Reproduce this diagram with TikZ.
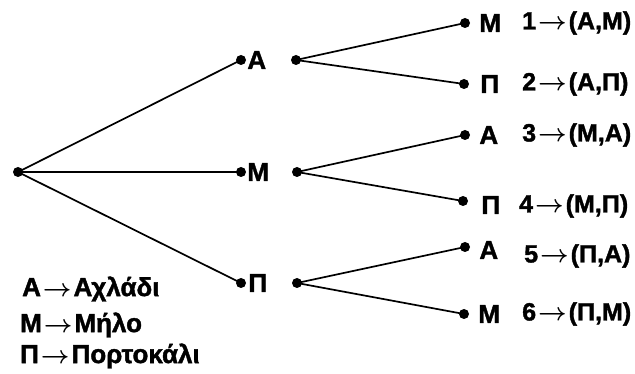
\documentclass[tikz,border=0pt]{standalone}
\usepackage{amsmath}
\usepackage{fontspec}
\setmainfont{Liberation Sans}[BoldFeatures={FakeBold=1.5}]
\usetikzlibrary{positioning}
\newcommand{\then}{\kern2pt\ensuremath{\boldsymbol{\rightarrow}}\kern2pt}

\begin{document}
\begin{tikzpicture}[
    x=1pt, y=-1pt,
    dot/.style={circle, fill, inner sep=0pt, minimum size=10pt},
    lbl/.style={inner sep=1pt, font=\fontsize{26}{28}\selectfont\bfseries},
    res/.style={anchor=west, inner sep=0pt, font=\fontsize{25}{28}\selectfont\bfseries},
    key/.style={anchor=west, inner sep=0pt, font=\fontsize{26}{28}\selectfont\bfseries},
    branch/.style={line width=1.7pt}
]
\useasboundingbox (0,0) rectangle (635,374);

% ρίζα και πρώτο επίπεδο
\node[dot] (root) at (18,172) {};
\node[dot] (a) at (241,60) {};
\node[dot] (m) at (241,172) {};
\node[dot] (p) at (241,283) {};
\node[lbl, right=0pt of a] (la) {Α};
\node[lbl, right=0pt of m] (lm) {Μ};
\node[lbl, right=1pt of p] (lp) {Π};

% δεύτερο επίπεδο
\node[dot] (a2) at (296,60) {};
\node[dot] (m2) at (297,172) {};
\node[dot] (p2) at (297,283) {};

% φύλλα
\node[dot] (am) at (465,23) {};
\node[dot] (ap) at (464,84) {};
\node[dot] (ma) at (465,135) {};
\node[dot] (mp) at (463,201) {};
\node[dot] (pa) at (465,247) {};
\node[dot] (pm) at (464,314) {};
\node[lbl, right=8pt of am] (lam) {Μ};
\node[lbl, right=10pt of ap] (lap) {Π};
\node[lbl, right=8pt of ma] (lma) {Α};
\node[lbl, right=12pt of mp, yshift=-4pt] (lmp) {Π};
\node[lbl, right=8pt of pa, yshift=-3pt] (lpa) {Α};
\node[lbl, right=8pt of pm] (lpm) {Μ};

% αποτελέσματα
\node[res] (r1) at (522,23) {1\then(Α,Μ)};
\node[res] (r2) at (522,84) {2\then(Α,Π)};
\node[res] (r3) at (522,135) {3\then(Μ,Α)};
\node[res] (r4) at (519,206) {4\then(Μ,Π)};
\node[res] (r5) at (524,256) {5\then(Π,Α)};
\node[res] (r6) at (522,314) {6\then(Π,Μ)};

% κλαδιά
\draw[branch] (root.center) -- (a.center);
\draw[branch] (root.center) -- (m.center);
\draw[branch] (root.center) -- (p.center);
\draw[branch] (a2.center) -- (am.center);
\draw[branch] (a2.center) -- (ap.center);
\draw[branch] (m2.center) -- (ma.center);
\draw[branch] (m2.center) -- (mp.center);
\draw[branch] (p2.center) -- (pa.center);
\draw[branch] (p2.center) -- (pm.center);

% υπόμνημα
\node[key] (k1) at (22,289) {Α\then Αχλάδι};
\node[key] (k2) at (20,325) {Μ\then Μήλο};
\node[key] (k3) at (20,356) {Π\then Πορτοκάλι};

\end{tikzpicture}
\end{document}
